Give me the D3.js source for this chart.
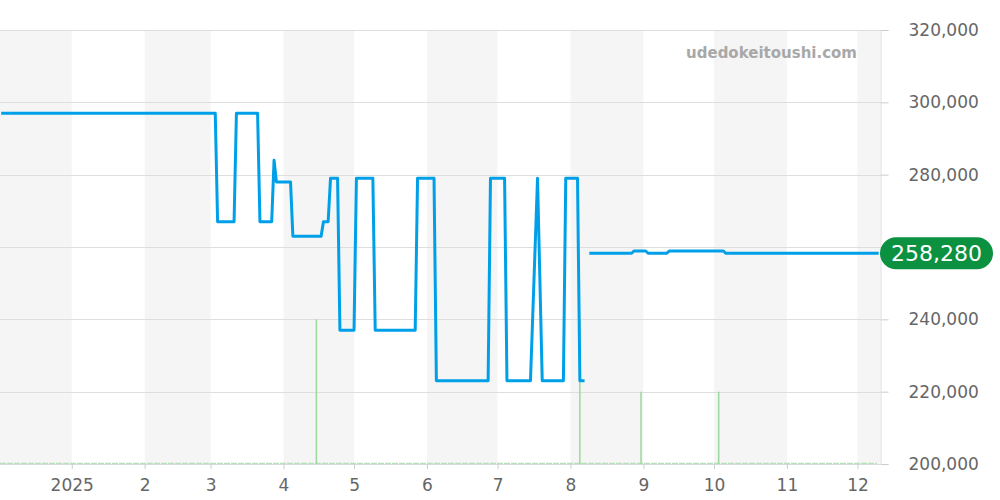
<!DOCTYPE html>
<html>
<head>
<meta charset="utf-8">
<script src="https://cdn.jsdelivr.net/npm/d3@7"></script>
<style>
  body { margin: 0; background: #fff; }
  svg { display: block; font-family: "DejaVu Sans", sans-serif; }
</style>
</head>
<body>
<div id="chart"></div>
<script>
// price history (null = no data)
var priceDates = [
  "2024-12-02", "2025-03-03", "2025-03-04", "2025-03-11", "2025-03-12",
  "2025-03-21", "2025-03-22", "2025-03-27", "2025-03-28", "2025-03-29",
  "2025-04-04", "2025-04-05", "2025-04-17", "2025-04-18", "2025-04-20",
  "2025-04-21", "2025-04-24", "2025-04-25", "2025-05-01", "2025-05-02",
  "2025-05-09", "2025-05-10", "2025-05-27", "2025-05-28", "2025-06-04",
  "2025-06-05", "2025-06-27", "2025-06-28", "2025-07-04", "2025-07-05",
  "2025-07-15", "2025-07-18", "2025-07-20", "2025-07-29", "2025-07-30",
  "2025-08-04", "2025-08-05", "2025-08-07", "2025-08-08",
  "2025-08-09", "2025-08-27", "2025-08-28", "2025-09-02", "2025-09-03",
  "2025-09-11", "2025-09-12", "2025-10-05", "2025-10-06", "2025-12-10"
];
var priceValues = [
  297000, 297000, 267000, 267000, 297000,
  297000, 267000, 267000, 284000, 278000,
  278000, 263000, 263000, 267000, 267000,
  279000, 279000, 237000, 237000, 279000,
  279000, 237000, 237000, 279000, 279000,
  223000, 223000, 279000, 279000, 223000,
  223000, 279000, 223000, 223000, 279000,
  279000, 223000, 223000, null,
  258280, 258280, 258900, 258900, 258280,
  258280, 258900, 258900, 258280, 258280
];

// sales volume bars
var volumeDates = ["2025-04-15", "2025-08-05", "2025-08-31", "2025-10-03"];
var volumeValues = [2, 2, 1, 1];

var yTicks = [200000, 220000, 240000, 260000, 280000, 300000, 320000];
var xTickDates = ["2025-01-01", "2025-02-01", "2025-03-01", "2025-04-01", "2025-05-01", "2025-06-01",
                  "2025-07-01", "2025-08-01", "2025-09-01", "2025-10-01", "2025-11-01", "2025-12-01"];
var xTickLabels = ["2025", "2", "3", "4", "5", "6", "7", "8", "9", "10", "11", "12"];
var lastPrice = 258280;

var W = 1000, H = 500,
    plotL = 0, plotR = 880, plotT = 30, plotB = 464;

var parse = d3.utcParse("%Y-%m-%d");
var x = d3.scaleUtc()
    .domain([new Date(Date.UTC(2024, 11, 1, 12)), new Date(Date.UTC(2025, 11, 10, 14))])
    .range([plotL, plotR]);
var y = d3.scaleLinear().domain([200000, 320000]).range([plotB, plotT]);
var yVol = d3.scaleLinear().domain([0, 6]).range([plotB, plotT]);

var svg = d3.select("#chart").append("svg")
    .attr("width", W)
    .attr("height", H);

// alternating month bands
var months = d3.utcMonth.range(new Date(Date.UTC(2024, 11, 1)), new Date(Date.UTC(2026, 0, 1)));
svg.append("g").selectAll("rect")
    .data(months.filter(function(d, i) { return i % 2 === 0; }))
    .enter().append("rect")
    .attr("x", function(d) { return Math.max(plotL, x(d)); })
    .attr("y", plotT)
    .attr("width", function(d) {
        return Math.min(plotR, x(d3.utcMonth.offset(d, 1))) - Math.max(plotL, x(d));
    })
    .attr("height", plotB - plotT)
    .attr("fill", "#f5f5f5");

// horizontal grid
svg.append("g").selectAll("line")
    .data(yTicks)
    .enter().append("line")
    .attr("x1", plotL).attr("x2", plotR)
    .attr("y1", function(d) { return Math.round(y(d)) + 0.5; })
    .attr("y2", function(d) { return Math.round(y(d)) + 0.5; })
    .attr("stroke", "#dedede");

// right axis
var yAxis = d3.axisRight(y).tickValues(yTicks).tickSize(8).tickPadding(20)
    .tickFormat(d3.format(","));
var ga = svg.append("g").attr("transform", "translate(" + (plotR + 0.5) + ",0)").call(yAxis);
ga.select(".domain").attr("stroke", "#dddddd");
ga.selectAll(".tick line").attr("stroke", "#cccccc");
ga.selectAll(".tick text").attr("fill", "#666").attr("font-size", 17)
    .attr("font-family", "DejaVu Sans, sans-serif");

// bottom axis
var xAxis = d3.axisBottom(x).tickValues(xTickDates.map(parse)).tickSize(5).tickPadding(10)
    .tickFormat(function(d, i) { return xTickLabels[i]; });
var gx = svg.append("g").attr("transform", "translate(0," + plotB + ")").call(xAxis);
gx.select(".domain").remove();
gx.selectAll(".tick line").attr("stroke", "#cccccc");
gx.selectAll(".tick text").attr("fill", "#666").attr("font-size", 17)
    .attr("font-family", "DejaVu Sans, sans-serif");

// volume baseline and bars
svg.append("line")
    .attr("x1", plotL).attr("x2", plotR - 3)
    .attr("y1", plotB - 0.5).attr("y2", plotB - 0.5)
    .attr("stroke", "#b9e0bb").attr("stroke-width", 1.5)
    .attr("stroke-dasharray", "6,1");
svg.append("g").selectAll("line")
    .data(volumeDates)
    .enter().append("line")
    .attr("x1", function(d) { return x(parse(d)); })
    .attr("x2", function(d) { return x(parse(d)); })
    .attr("y1", plotB)
    .attr("y2", function(d, i) { return yVol(volumeValues[i]); })
    .attr("stroke", "#9bd89d")
    .attr("stroke-width", 1.5);

// price line
var pts = priceDates.map(function(d, i) { return {date: parse(d), value: priceValues[i]}; });
var line = d3.line()
    .defined(function(d) { return d.value !== null; })
    .x(function(d) { return x(d.date); })
    .y(function(d) { return y(d.value); });
svg.append("path")
    .datum(pts)
    .attr("d", line)
    .attr("fill", "none")
    .attr("stroke", "#00a0e9")
    .attr("stroke-width", 3)
    .attr("stroke-linejoin", "round");

// watermark
svg.append("text")
    .attr("x", 857).attr("y", 58)
    .attr("text-anchor", "end")
    .attr("font-size", 15).attr("font-weight", "bold")
    .attr("fill", "#a8a8a8")
    .text("udedokeitoushi.com");

// last price badge
var by = y(lastPrice);
svg.append("rect")
    .attr("x", plotR).attr("y", by - 16)
    .attr("width", 113).attr("height", 32)
    .attr("rx", 16).attr("ry", 16)
    .attr("fill", "#0b9140");
svg.append("text")
    .attr("x", plotR + 56.5).attr("y", by + 8)
    .attr("text-anchor", "middle")
    .attr("font-size", 22)
    .attr("fill", "#fff")
    .text(d3.format(",")(lastPrice));
</script>
</body>
</html>
